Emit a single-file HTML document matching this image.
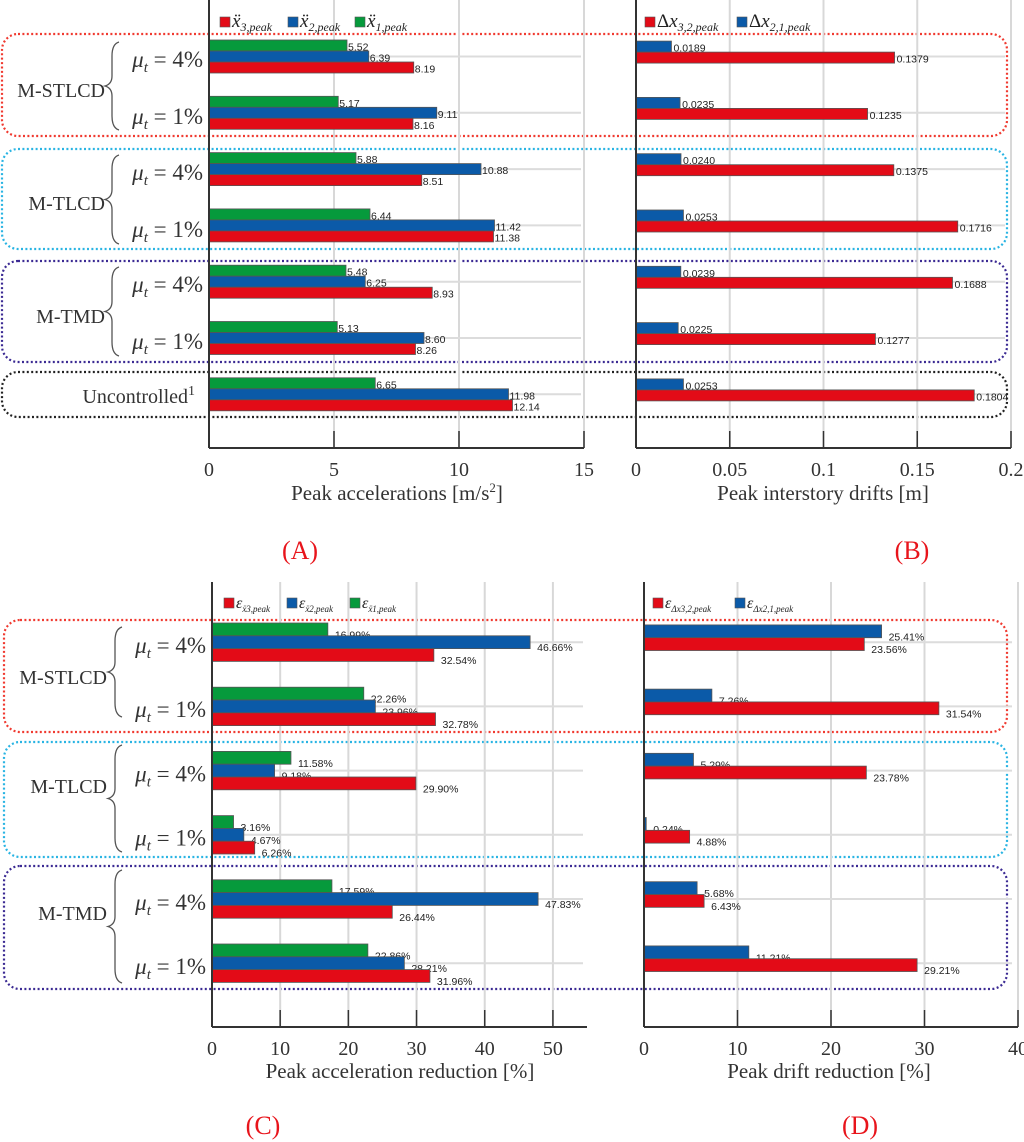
<!DOCTYPE html>
<html><head><meta charset="utf-8"><style>
html,body{margin:0;padding:0;background:#fff;}
svg{display:block;}
.tick{font-family:"Liberation Serif",serif;font-size:20px;fill:#333;}
.ttl{font-family:"Liberation Serif",serif;font-size:21px;fill:#333;}
.lbl{font-family:"Liberation Serif",serif;font-size:20px;fill:#333;}
.mu{font-family:"Liberation Serif",serif;font-size:23px;fill:#333;}
.val{font-family:"Liberation Sans",sans-serif;font-size:10.5px;fill:#222;}
.pl{font-family:"Liberation Serif",serif;font-size:26px;fill:#e8141b;}
.lg{font-family:"Liberation Serif",serif;font-style:italic;fill:#222;}
</style></head><body>
<svg id="chart" width="1024" height="1142" viewBox="0 0 1024 1142" xmlns="http://www.w3.org/2000/svg"></svg>
<script>
// ---- data ----
const rowsTop = ["M-STLCD 4%","M-STLCD 1%","M-TLCD 4%","M-TLCD 1%","M-TMD 4%","M-TMD 1%","Uncontrolled"];
const accX1 = [5.52,5.17,5.88,6.44,5.48,5.13,6.65];
const accX2 = [6.39,9.11,10.88,11.42,6.25,8.60,11.98];
const accX3 = [8.19,8.16,8.51,11.38,8.93,8.26,12.14];
const drift21 = [0.0189,0.0235,0.0240,0.0253,0.0239,0.0225,0.0253];
const drift32 = [0.1379,0.1235,0.1375,0.1716,0.1688,0.1277,0.1804];
const rowsBot = ["M-STLCD 4%","M-STLCD 1%","M-TLCD 4%","M-TLCD 1%","M-TMD 4%","M-TMD 1%"];
const redX1 = [16.99,22.26,11.58,3.16,17.59,22.86];
const redX2 = [46.66,23.96,9.18,4.67,47.83,28.21];
const redX3 = [32.54,32.78,29.90,6.26,26.44,31.96];
const redD21 = [25.41,7.26,5.29,0.24,5.68,11.21];
const redD32 = [23.56,31.54,23.78,4.88,6.43,29.21];
const ticksA = [0,5,10,15];
const ticksB = [0,0.05,0.1,0.15,0.2];
const ticksBLabels = ["0","0.05","0.1","0.15","0.2"];
const ticksC = [0,10,20,30,40,50];
const ticksD = [0,10,20,30,40];

const NS="http://www.w3.org/2000/svg";
const svg=document.getElementById('chart');
function mk(tag,attrs,parent,text){const e=document.createElementNS(NS,tag);for(const k in attrs)e.setAttribute(k,attrs[k]);if(text!==undefined)e.textContent=text;(parent||svg).appendChild(e);return e;}
const RED="#e30b17",BLUE="#0b5aa8",GREEN="#069a3c";

function panel(o){
  const g=mk('g',{});
  
  
  const sx=v=>o.x0+(v-o.min)/(o.max-o.min)*(o.x1-o.x0);
  o.ticks.forEach((t,i)=>{ if(i>0){const l=mk('line',{x1:sx(t),x2:sx(t),y1:o.yTop,y2:o.yAxis,stroke:'#d8d8d8','stroke-width':2},g);
    }});
  o.n.forEach((_,i)=>{const y=o.rowY(i)+o.h*1.5;const l=mk('line',{x1:o.x0,x2:o.gridEnd,y1:y,y2:y,stroke:'#dcdcdc','stroke-width':2},g);
    });
  o.series.forEach(s=>{
    s.vals.forEach((v,i)=>{
      const y=o.rowY(i)+s.slot*o.h;
      const r=mk('rect',{x:o.x0,y:y,width:Math.max(1,sx(v)-o.x0),height:o.h,fill:s.color,stroke:'#555','stroke-width':0.8},g);
      
      
      const t=mk('text',{x:sx(v)+o.voff,y:y+o.h*0.5+o.vdy,class:'val','font-size':o.vfs},g,o.fmt(v));
      
      
    });
  });
  const ya=mk('line',{x1:o.x0,x2:o.x0,y1:o.yTop,y2:o.yAxis,stroke:'#333','stroke-width':2},g);
  
  const xa=mk('line',{x1:o.x0,x2:o.x1,y1:o.yAxis,y2:o.yAxis,stroke:'#333','stroke-width':2},g);
  
  o.ticks.forEach((t,i)=>{
    const tk=mk('line',{x1:sx(t),x2:sx(t),y1:o.yAxis,y2:o.yAxis-17,stroke:'#333','stroke-width':1.5},g);
    
    const tl=mk('text',{x:sx(t),y:o.yAxis+28,'text-anchor':'middle',class:'tick'},g,o.tickLabels?o.tickLabels[i]:String(t));
    
  });
}

function box(x,y,w,h,c,name){const r=mk('rect',{x:x,y:y,width:w,height:h,rx:16,ry:16,fill:'none',stroke:c,'stroke-width':2.2,'stroke-dasharray':'2 2.4'});
  }
const CR="#f03a30",CC="#29b4e3",CP="#3b2a93",CK="#222";
box(2,34,1005,102,CR,'group-box-stlcd-top');
box(2,149,1005,100,CC,'group-box-tlcd-top');
box(2,261,1005,101,CP,'group-box-tmd-top');
box(2,372,1005,45,CK,'group-box-uncontrolled');
box(4,620,1003,112,CR,'group-box-stlcd-bottom');
box(4,742,1003,115,CC,'group-box-tlcd-bottom');
box(4,866,1003,123,CP,'group-box-tmd-bottom');

const rowA=i=>40+i*56.3;
panel({name:'panel-a-peak-accelerations',x0:209,x1:584,min:0,max:15,ticks:ticksA,yTop:0,yAxis:448,gridEnd:581,n:rowsTop,rowY:rowA,h:11,voff:1,vdy:5,vfs:11,fmt:v=>v.toFixed(2),
  series:[{key:'x1',vals:accX1,slot:0,color:GREEN},{key:'x2',vals:accX2,slot:1,color:BLUE},{key:'x3',vals:accX3,slot:2,color:RED}]});
panel({name:'panel-b-interstory-drifts',x0:636,x1:1011,min:0,max:0.2,ticks:ticksB,tickLabels:ticksBLabels,yTop:0,yAxis:448,gridEnd:1005,n:rowsTop,rowY:rowA,h:11,voff:2,vdy:5,vfs:11,fmt:v=>v.toFixed(4),
  series:[{key:'d21',vals:drift21,slot:0.1,color:BLUE},{key:'d32',vals:drift32,slot:1.1,color:RED}]});
const rowC=i=>623+i*64.2;
panel({name:'panel-c-acceleration-reduction',x0:212,x1:587,min:0,max:55,ticks:ticksC,yTop:582,yAxis:1027,gridEnd:583,n:rowsBot,rowY:rowC,h:12.8,voff:7,vdy:9,vfs:11,fmt:v=>v.toFixed(2)+'%',
  series:[{key:'e1',vals:redX1,slot:0,color:GREEN},{key:'e2',vals:redX2,slot:1,color:BLUE},{key:'e3',vals:redX3,slot:2,color:RED}]});
panel({name:'panel-d-drift-reduction',x0:644,x1:1018,min:0,max:40,ticks:ticksD,yTop:582,yAxis:1027,gridEnd:1012,n:rowsBot,rowY:rowC,h:12.8,voff:7,vdy:9,vfs:11,fmt:v=>v.toFixed(2)+'%',
  series:[{key:'dd21',vals:redD21,slot:0.15,color:BLUE},{key:'dd32',vals:redD32,slot:1.15,color:RED}]});

function txt(x,y,cls,s,name,anchor){const t=mk('text',{x:x,y:y,class:cls,'text-anchor':anchor||'middle'});t.innerHTML=s;return t;}
txt(397,500,'ttl','Peak accelerations [m/s<tspan dy="-8" font-size="13">2</tspan><tspan dy="8">]</tspan>','x-axis-title-a');
txt(823,500,'ttl','Peak interstory drifts [m]','x-axis-title-b');
txt(400,1078,'ttl','Peak acceleration reduction [%]','x-axis-title-c');
txt(829,1078,'ttl','Peak drift reduction [%]','x-axis-title-d');
txt(300,559,'pl','(A)','panel-label-a');
txt(912,559,'pl','(B)','panel-label-b');
txt(263,1134,'pl','(C)','panel-label-c');
txt(860,1134,'pl','(D)','panel-label-d');

function brace(x,y1,y2,name){const m=(y1+y2)/2;const d=`M${x+12},${y1} Q${x+5},${y1+2} ${x+5},${y1+14} L${x+5},${m-10} Q${x+5},${m-2} ${x-2},${m} Q${x+5},${m+2} ${x+5},${m+10} L${x+5},${y2-14} Q${x+5},${y2-2} ${x+12},${y2}`;
  const p=mk('path',{d:d,fill:'none',stroke:'#555','stroke-width':1.3});}
function mu(x,y,pct,name){txt(x,y,'mu','<tspan font-style="italic">μ</tspan><tspan font-style="italic" font-size="15" dy="5">t</tspan><tspan dy="-5"> = '+pct+'%</tspan>',name,'end');}
const grpT=[['M-STLCD',90,42,130],['M-TLCD',203,155,244],['M-TMD',316,267,356]];
grpT.forEach((g,i)=>{txt(105,g[1]+7,'lbl',g[0],'group-label-top-'+i,'end');brace(107,g[2],g[3],'brace-top-'+i);
  mu(203,g[2]+25,4,'mu-label-4-top-'+i);mu(203,g[2]+82,1,'mu-label-1-top-'+i);});
txt(195,403,'lbl','Uncontrolled<tspan dy="-8" font-size="14">1</tspan>','group-label-uncontrolled','end');
const grpB=[['M-STLCD',677,627,717],['M-TLCD',786,745,852],['M-TMD',913,870,983]];
grpB.forEach((g,i)=>{txt(107,g[1]+7,'lbl',g[0],'group-label-bottom-'+i,'end');brace(110,g[2],g[3],'brace-bottom-'+i);
  mu(206,645+i*128.4+8,4,'mu-label-4-bottom-'+i);mu(206,709+i*128.4+8,1,'mu-label-1-bottom-'+i);});

function leg(x,y,color,html,fs,name){const r=mk('rect',{x:x,y:y-10,width:10,height:10,fill:color,stroke:'#555','stroke-width':0.6});
  
  const t=mk('text',{x:x+12,y:y,class:'lg','font-size':fs});t.innerHTML=html;}
const sub=s=>'<tspan font-size="12" dy="4">'+s+'</tspan><tspan dy="-4"></tspan>';
leg(220,27,RED,'ẍ'+sub('3,peak'),19,'legend-entry-x3');
leg(288,27,BLUE,'ẍ'+sub('2,peak'),19,'legend-entry-x2');
leg(355,27,GREEN,'ẍ'+sub('1,peak'),19,'legend-entry-x1');
leg(645,27,RED,'<tspan font-style="normal">Δ</tspan>x'+sub('3,2,peak'),19,'legend-entry-d32');
leg(737,27,BLUE,'<tspan font-style="normal">Δ</tspan>x'+sub('2,1,peak'),19,'legend-entry-d21');
const sub2=s=>'<tspan font-size="9" dy="4">'+s+'</tspan><tspan dy="-4"></tspan>';
leg(224,608,RED,'ε'+sub2('ẍ3,peak'),16,'legend-entry-e3');
leg(287,608,BLUE,'ε'+sub2('ẍ2,peak'),16,'legend-entry-e2');
leg(350,608,GREEN,'ε'+sub2('ẍ1,peak'),16,'legend-entry-e1');
leg(653,608,RED,'ε'+sub2('Δx3,2,peak'),16,'legend-entry-ed32');
leg(735,608,BLUE,'ε'+sub2('Δx2,1,peak'),16,'legend-entry-ed21');
</script>
</body></html>
